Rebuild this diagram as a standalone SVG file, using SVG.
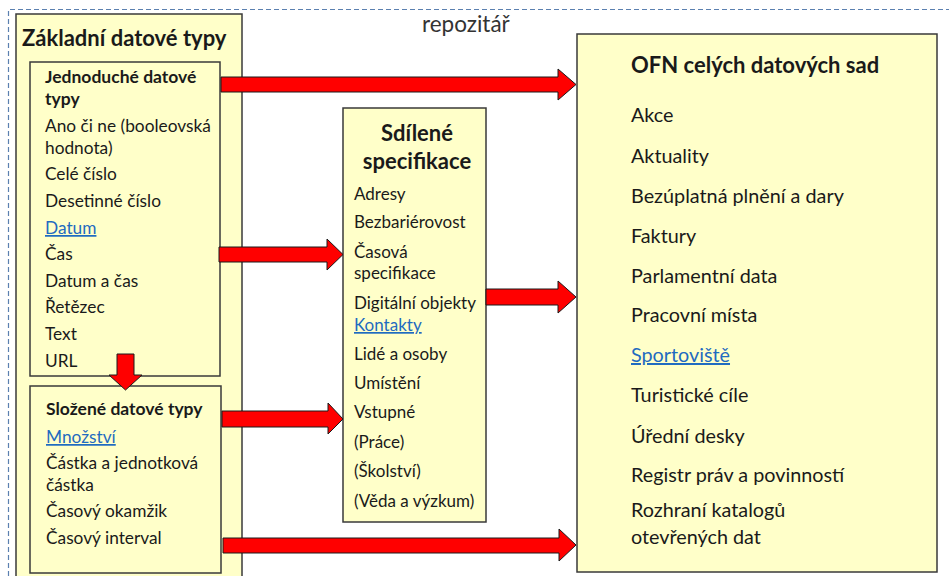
<svg xmlns="http://www.w3.org/2000/svg" width="949" height="576" viewBox="0 0 949 576">
  <style>
    text { font-family: Lato, "Open Sans", "Liberation Sans", sans-serif; fill: #1a1a1a; }
    .box { fill: #ffffc9; stroke: #3a3a3a; stroke-width: 1.5; }
    .title { font-weight: bold; font-size: 22px; }
    .sub { font-weight: bold; font-size: 17.5px; }
    .i16 { font-size: 17.3px; }
    .i15 { font-size: 17px; }
    .i18 { font-size: 19.8px; }
    .link { fill: #1f6bc0; text-decoration: underline; }
    .arrow { fill: #ff0000; stroke: #1a1a1a; stroke-width: 1; stroke-linejoin: miter; }
  </style>

  <!-- repository boundary -->
  <g id="repozitar">
    <path d="M8.5,576 V9.5 H949" fill="none" stroke="#5b80b0" stroke-width="1.2" stroke-dasharray="5,3"/>
    <text x="422" y="32" style="font-size:22.5px; fill:#333">repozitář</text>
  </g>

  <!-- basic data types -->
  <g id="zakladni-datove-typy">
    <rect class="box" x="16" y="14" width="226" height="570"/>
    <text class="title" x="22" y="46">Základní datové typy</text>
  </g>

  <g id="jednoduche-datove-typy">
    <rect class="box" x="30" y="62" width="190" height="314"/>
    <text class="sub" x="45" y="83">Jednoduché datové</text>
    <text class="sub" x="45" y="105">typy</text>
    <text class="i16" x="45" y="132">Ano či ne (booleovská</text>
    <text class="i16" x="45" y="154">hodnota)</text>
    <text class="i16" x="45" y="180">Celé číslo</text>
    <text class="i16" x="45" y="207">Desetinné číslo</text>
    <text class="i16 link" x="45" y="234">Datum</text>
    <text class="i16" x="45" y="260">Čas</text>
    <text class="i16" x="45" y="287">Datum a čas</text>
    <text class="i16" x="45" y="313">Řetězec</text>
    <text class="i16" x="45" y="340">Text</text>
    <text class="i16" x="45" y="367">URL</text>
  </g>

  <g id="slozene-datove-typy">
    <rect class="box" x="30" y="386" width="191" height="187"/>
    <text class="sub" x="46" y="415">Složené datové typy</text>
    <text class="i16 link" x="46" y="443">Množství</text>
    <text class="i16" x="46" y="469">Částka a jednotková</text>
    <text class="i16" x="46" y="491">částka</text>
    <text class="i16" x="46" y="517">Časový okamžik</text>
    <text class="i16" x="46" y="544">Časový interval</text>
  </g>

  <!-- shared specifications -->
  <g id="sdilene-specifikace">
    <rect class="box" x="343" y="108" width="143" height="414"/>
    <text class="title" x="417" y="141" text-anchor="middle">Sdílené</text>
    <text class="title" x="417" y="169" text-anchor="middle">specifikace</text>
    <text class="i15" x="354" y="200">Adresy</text>
    <text class="i15" x="354" y="228">Bezbariérovost</text>
    <text class="i15" x="354" y="258">Časová</text>
    <text class="i15" x="354" y="279">specifikace</text>
    <text class="i15" x="354" y="309">Digitální objekty</text>
    <text class="i15 link" x="354" y="331">Kontakty</text>
    <text class="i15" x="354" y="360">Lidé a osoby</text>
    <text class="i15" x="354" y="389">Umístění</text>
    <text class="i15" x="354" y="418">Vstupné</text>
    <text class="i15" x="354" y="448">(Práce)</text>
    <text class="i15" x="354" y="477">(Školství)</text>
    <text class="i15" x="354" y="507">(Věda a výzkum)</text>
  </g>

  <!-- whole-dataset standards -->
  <g id="ofn-celych-datovych-sad">
    <rect class="box" x="577" y="34" width="360" height="538"/>
    <text class="title" x="631" y="73">OFN celých datových sad</text>
    <text class="i18" x="631" y="122">Akce</text>
    <text class="i18" x="631" y="163">Aktuality</text>
    <text class="i18" x="631" y="203">Bezúplatná plnění a dary</text>
    <text class="i18" x="631" y="243">Faktury</text>
    <text class="i18" x="631" y="283">Parlamentní data</text>
    <text class="i18" x="631" y="322">Pracovní místa</text>
    <text class="i18 link" x="631" y="362">Sportoviště</text>
    <text class="i18" x="631" y="402">Turistické cíle</text>
    <text class="i18" x="631" y="443">Úřední desky</text>
    <text class="i18" x="631" y="482">Registr práv a povinností</text>
    <text class="i18" x="631" y="517">Rozhraní katalogů</text>
    <text class="i18" x="631" y="544">otevřených dat</text>
  </g>

  <!-- block arrows -->
  <g id="connectors">
    <polygon class="arrow" points="221,77 558,77 558,69 576,84.5 558,100 558,92 221,92"/>
    <polygon class="arrow" points="219,247 327,247 327,239 343,254.5 327,270 327,262 219,262"/>
    <polygon class="arrow" points="486,289 558,289 558,281 576,297 558,313 558,305 486,305"/>
    <polygon class="arrow" points="222,411 328,411 328,403 343,419 328,434 328,427 222,427"/>
    <polygon class="arrow" points="223,538 559,538 559,529 576,545 559,561 559,553 223,553"/>
    <polygon class="arrow" points="117,354 134,354 134,375 142,375 125.5,390 109,375 117,375"/>
  </g>
</svg>
